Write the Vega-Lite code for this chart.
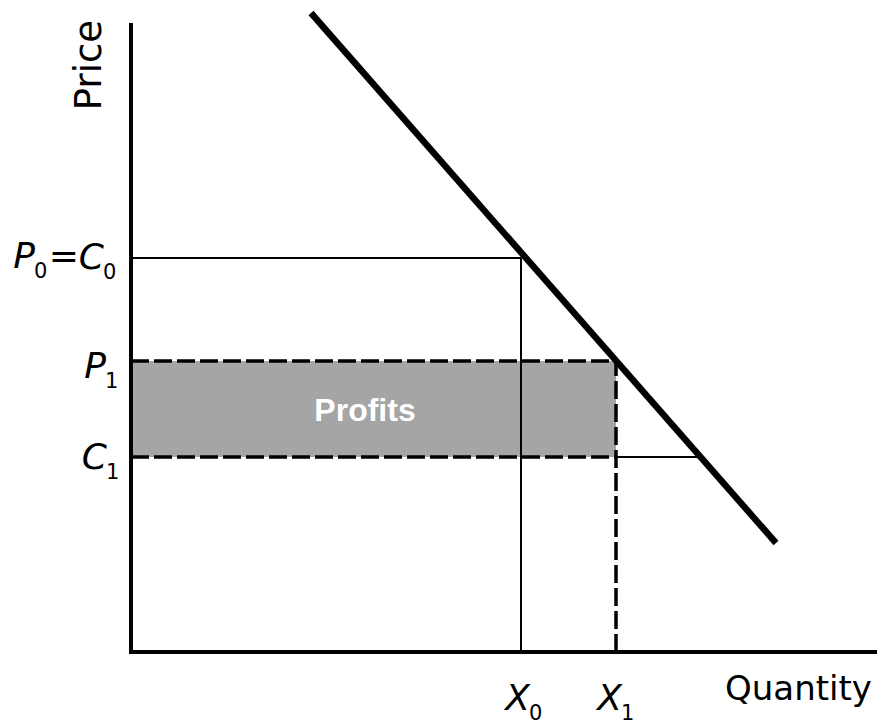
{
  "$schema": "https://vega.github.io/schema/vega-lite/v6.json",
  "width": 881,
  "height": 725,
  "autosize": {"type": "none"},
  "padding": 0,
  "background": "white",
  "config": {"view": {"stroke": null}},
  "datasets": {
    "profitArea": [{"q0": 0, "q1": 485, "p0": 195, "p1": 291}],
    "axesLines": [
      {"q0": 0, "q1": 744, "p0": 0, "p1": 0},
      {"q0": 0, "q1": 0, "p0": 0, "p1": 627}
    ],
    "solidGuides": [
      {"q0": 0, "q1": 390, "p0": 394, "p1": 394},
      {"q0": 390, "q1": 390, "p0": 0, "p1": 394},
      {"q0": 485, "q1": 568, "p0": 195, "p1": 195}
    ],
    "dashedGuides": [
      {"q0": 0, "q1": 485, "p0": 291, "p1": 291},
      {"q0": 0, "q1": 485, "p0": 195, "p1": 195},
      {"q0": 485, "q1": 485, "p0": 0, "p1": 291}
    ],
    "demand": [{"q": 180, "p": 639}, {"q": 645, "p": 109}],
    "labels": [
      {"q": -96, "p": 384, "main": "P", "sub": "0"},
      {"q": -52, "p": 384, "main": "=", "sub": ""},
      {"q": -27, "p": 383, "main": "C", "sub": "0"},
      {"q": -25, "p": 274, "main": "P", "sub": "1"},
      {"q": -24, "p": 183, "main": "C", "sub": "1"},
      {"q": 399, "p": -58, "main": "X", "sub": "0"},
      {"q": 491, "p": -58, "main": "X", "sub": "1"}
    ],
    "priceTitle": [{"q": -30, "p": 587, "text": "Price"}],
    "quantityTitle": [{"q": 594, "p": -48, "text": "Quantity"}],
    "profitLabel": [{"q": 234, "p": 231, "text": "Profits"}]
  },
  "layer": [
    {
      "data": {"name": "profitArea"},
      "mark": {"type": "rect", "color": "#a5a5a5"},
      "encoding": {
        "x": {"field": "q0", "type": "quantitative", "scale": {"domain": [-131, 750], "nice": false, "zero": false}, "axis": null},
        "x2": {"field": "q1"},
        "y": {"field": "p0", "type": "quantitative", "scale": {"domain": [-73, 652], "nice": false, "zero": false}, "axis": null},
        "y2": {"field": "p1"}
      }
    },
    {
      "data": {"name": "solidGuides"},
      "mark": {"type": "rule", "color": "black", "strokeWidth": 2},
      "encoding": {
        "x": {"field": "q0", "type": "quantitative"},
        "x2": {"field": "q1"},
        "y": {"field": "p0", "type": "quantitative"},
        "y2": {"field": "p1"}
      }
    },
    {
      "data": {"name": "dashedGuides"},
      "mark": {"type": "rule", "color": "black", "strokeWidth": 3.5, "strokeDash": [18, 5]},
      "encoding": {
        "x": {"field": "q0", "type": "quantitative"},
        "x2": {"field": "q1"},
        "y": {"field": "p0", "type": "quantitative"},
        "y2": {"field": "p1"}
      }
    },
    {
      "data": {"name": "axesLines"},
      "mark": {"type": "rule", "color": "black", "strokeWidth": 4, "strokeCap": "square"},
      "encoding": {
        "x": {"field": "q0", "type": "quantitative"},
        "x2": {"field": "q1"},
        "y": {"field": "p0", "type": "quantitative"},
        "y2": {"field": "p1"}
      }
    },
    {
      "data": {"name": "demand"},
      "mark": {"type": "line", "color": "black", "strokeWidth": 6.5, "strokeCap": "butt"},
      "encoding": {
        "x": {"field": "q", "type": "quantitative"},
        "y": {"field": "p", "type": "quantitative"}
      }
    },
    {
      "data": {"name": "labels"},
      "mark": {"type": "text", "font": "DejaVu Sans", "fontSize": 36, "fontStyle": "italic", "align": "right", "baseline": "alphabetic", "color": "black"},
      "encoding": {
        "x": {"field": "q", "type": "quantitative"},
        "y": {"field": "p", "type": "quantitative"},
        "text": {"field": "main"}
      }
    },
    {
      "data": {"name": "labels"},
      "mark": {"type": "text", "font": "DejaVu Sans", "fontSize": 21, "align": "left", "baseline": "alphabetic", "dx": -1, "dy": 10, "color": "black"},
      "encoding": {
        "x": {"field": "q", "type": "quantitative"},
        "y": {"field": "p", "type": "quantitative"},
        "text": {"field": "sub"}
      }
    },
    {
      "data": {"name": "priceTitle"},
      "mark": {"type": "text", "font": "DejaVu Sans", "fontSize": 37, "angle": 270, "align": "center", "baseline": "alphabetic", "color": "black"},
      "encoding": {
        "x": {"field": "q", "type": "quantitative"},
        "y": {"field": "p", "type": "quantitative"},
        "text": {"field": "text"}
      }
    },
    {
      "data": {"name": "quantityTitle"},
      "mark": {"type": "text", "font": "DejaVu Sans", "fontSize": 34, "align": "left", "baseline": "alphabetic", "color": "black"},
      "encoding": {
        "x": {"field": "q", "type": "quantitative"},
        "y": {"field": "p", "type": "quantitative"},
        "text": {"field": "text"}
      }
    },
    {
      "data": {"name": "profitLabel"},
      "mark": {"type": "text", "font": "Liberation Sans", "fontSize": 32, "fontWeight": "bold", "align": "center", "baseline": "alphabetic", "color": "white"},
      "encoding": {
        "x": {"field": "q", "type": "quantitative"},
        "y": {"field": "p", "type": "quantitative"},
        "text": {"field": "text"}
      }
    }
  ]
}
